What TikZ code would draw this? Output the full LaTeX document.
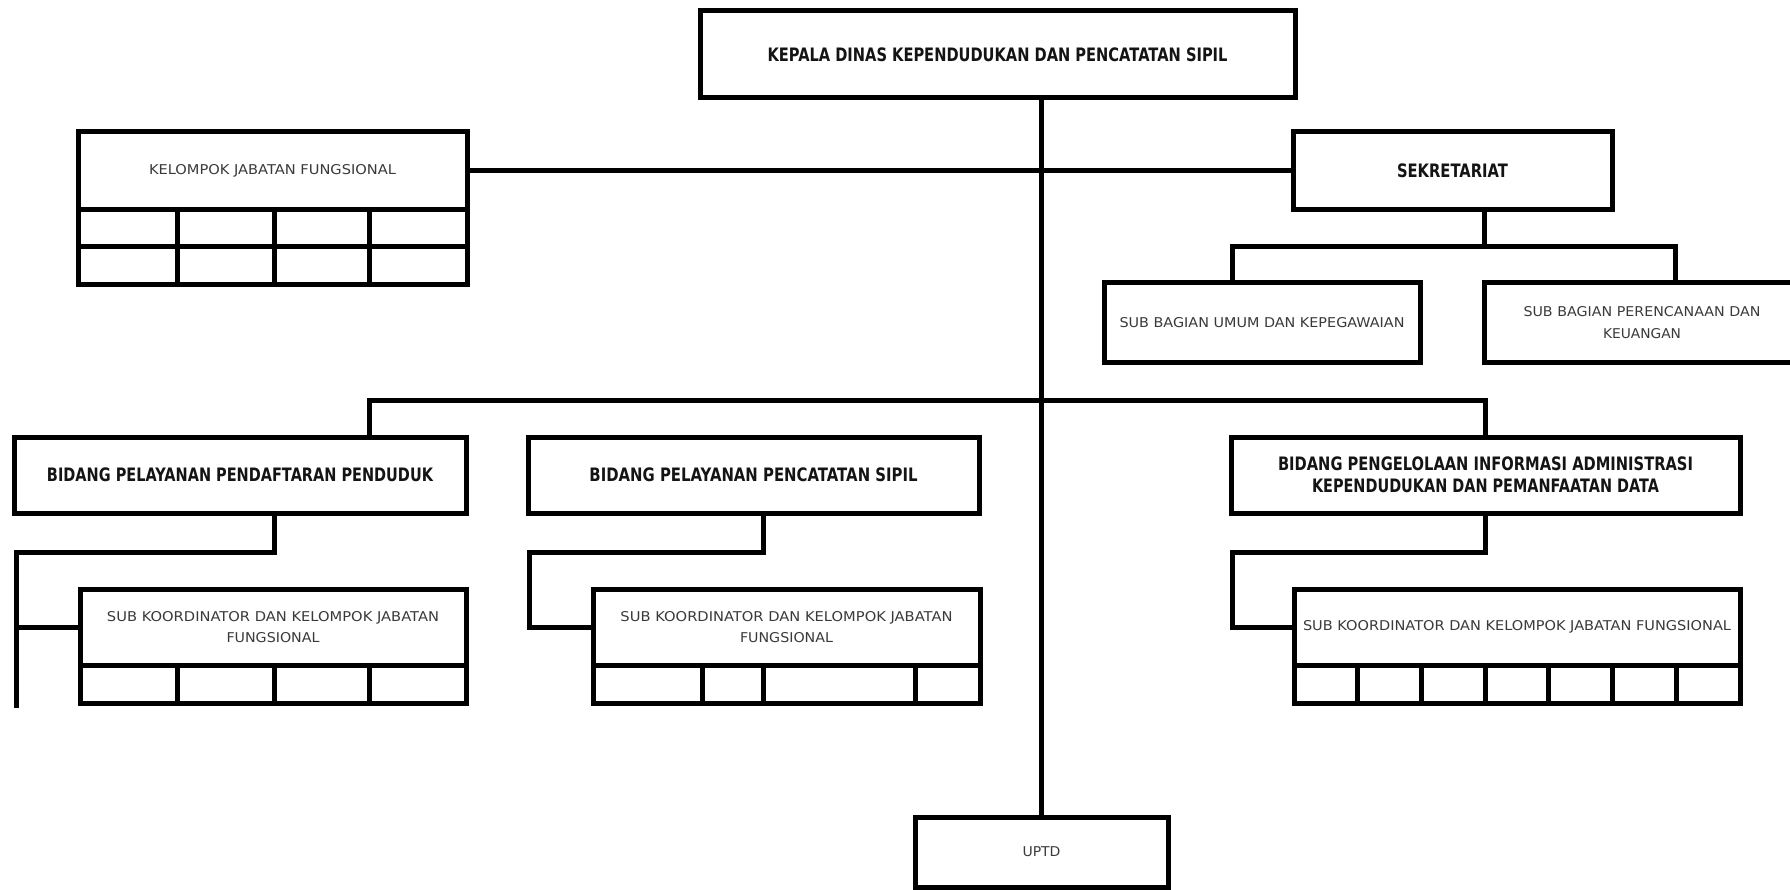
\documentclass[tikz,border=0pt]{standalone}
\usepackage{fontspec}
\setmainfont{DejaVu Sans}
\usepackage{graphicx}
\definecolor{txtreg}{HTML}{3A3A3A}
\definecolor{txtbold}{HTML}{141414}
\newcommand{\bt}[2]{\resizebox{#1pt}{\height}{\bfseries #2}}
\newcommand{\rt}[2]{\resizebox{#1pt}{\height}{#2}}
\begin{document}
\begin{tikzpicture}[x=1pt,y=-1pt,
  ln/.style={line width=5pt, line cap=rect, line join=miter},
  box/.style={draw, line width=5pt, rectangle, inner sep=0pt, outer sep=0pt, align=center},
  boldbox/.style={box, text=txtbold, font=\fontsize{18.5}{22}\selectfont},
  regbox/.style={box, text=txtreg, font=\fontsize{13.5}{21.5}\selectfont},
]
\useasboundingbox (0,0) rectangle (1790,890);
\fill[white] (0,0) rectangle (1790,890);
\clip (0,0) rectangle (1790,890);

% boxes
\node[boldbox, minimum width=595pt, minimum height=87pt] (top) at (997.5,54.5)
  {\bt{460}{KEPALA DINAS KEPENDUDUKAN DAN PENCATATAN SIPIL}};
\node[regbox, minimum width=389pt, minimum height=78pt] (kjf) at (272.5,171)
  {\rt{247}{KELOMPOK JABATAN FUNGSIONAL}};
\node[boldbox, minimum width=319pt, minimum height=78pt] (sek) at (1452.5,171)
  {\bt{111}{SEKRETARIAT}};
\node[regbox, minimum width=316pt, minimum height=79pt] (sbuk) at (1262,322.5)
  {\rt{285}{SUB BAGIAN UMUM DAN KEPEGAWAIAN}};
\node[regbox, minimum width=316pt, minimum height=79pt] (sbpk) at (1642,322.5)
  {\rt{237}{SUB BAGIAN PERENCANAAN DAN}\\\rt{78}{KEUANGAN}};
\node[boldbox, minimum width=452pt, minimum height=76pt] (bppd) at (240,475)
  {\bt{386}{BIDANG PELAYANAN PENDAFTARAN PENDUDUK}};
\node[boldbox, minimum width=451pt, minimum height=76pt] (bpcs) at (753.5,475)
  {\bt{328}{BIDANG PELAYANAN PENCATATAN SIPIL}};
\node[boldbox, minimum width=509pt, minimum height=76pt] (piak) at (1485.5,475)
  {\bt{415}{BIDANG PENGELOLAAN INFORMASI ADMINISTRASI}\\\bt{347}{KEPENDUDUKAN DAN PEMANFAATAN DATA}};
\node[regbox, minimum width=386pt, minimum height=76pt] (sub1) at (273,627)
  {\rt{332}{SUB KOORDINATOR DAN KELOMPOK JABATAN}\\\rt{93}{FUNGSIONAL}};
\node[regbox, minimum width=387pt, minimum height=76pt] (sub2) at (786.5,627)
  {\rt{332}{SUB KOORDINATOR DAN KELOMPOK JABATAN}\\\rt{93}{FUNGSIONAL}};
\node[regbox, minimum width=446pt, minimum height=76pt] (sub3) at (1517,627)
  {\rt{428}{SUB KOORDINATOR DAN KELOMPOK JABATAN FUNGSIONAL}};
\node[regbox, minimum width=253pt, minimum height=70pt] (uptd) at (1041.5,852)
  {\rt{38}{UPTD}};

% grids under boxes
\draw[ln] (78,210) rectangle (467,285);
\draw[ln] (78,247) -- (467,247);
\foreach \x in {177,274,369} \draw[ln] (\x,210) -- (\x,285);
\draw[ln] (80,665) rectangle (466,703);
\foreach \x in {177,274,369} \draw[ln] (\x,665) -- (\x,703);
\draw[ln] (593,665) rectangle (980,703);
\foreach \x in {702,763,915} \draw[ln] (\x,665) -- (\x,703);
\draw[ln] (1294,665) rectangle (1740,703);
\foreach \k in {1,...,6} \draw[ln] ({1294+63.714*\k},665) -- ({1294+63.714*\k},703);

% connectors
\coordinate (sekj) at (1484,247);
\coordinate (bend1) at (16,552);
\coordinate (free1) at (16,705);
\coordinate (bend2) at (529,552);
\coordinate (bend3) at (1232,552);
\draw[ln] (uptd.north |- top.south) -- (uptd.north);
\draw[ln] (kjf.east) -- (sek.west);
\draw[ln] (sekj |- sek.south) -- (sekj);
\draw[ln] (1232,0 |- sbuk.north) |- (sekj) -| (1675,0 |- sbpk.north);
\draw[ln] (369,0 |- bppd.north) |- (piak.north |- 0,400) -- (piak.north);
\draw[ln] (274,0 |- bppd.south) |- (bend1) -- (free1);
\draw[ln] (free1 |- sub1.west) -- (sub1.west);
\draw[ln] (763,0 |- bpcs.south) |- (bend2) |- (sub2.west);
\draw[ln] (piak.south) |- (bend3) |- (sub3.west);
\end{tikzpicture}
\end{document}
